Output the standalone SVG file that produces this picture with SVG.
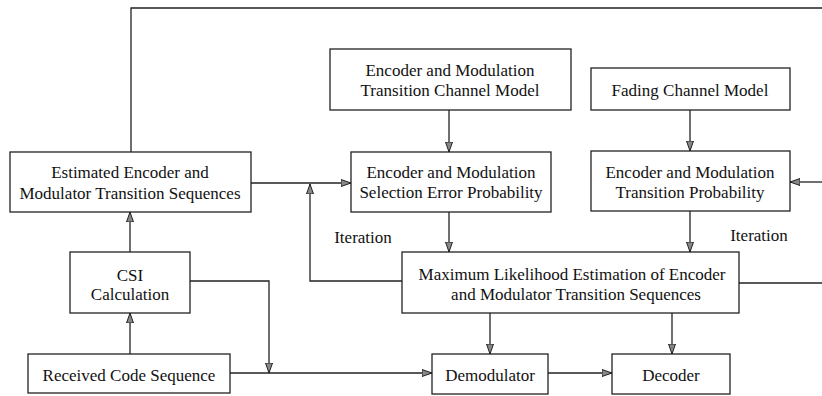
<svg xmlns="http://www.w3.org/2000/svg" width="822" height="396" viewBox="0 0 822 396">
<style>
.box{fill:#fff;stroke:#222;stroke-width:1.3}
.ln{fill:none;stroke:#222;stroke-width:1.3}
.arr{marker-end:url(#ah)}
text{font-family:"Liberation Serif","Times New Roman",serif;font-size:17px;fill:#111;text-anchor:middle;dominant-baseline:central}
</style>
<defs>
<marker id="ah" viewBox="0 0 10 8" refX="10" refY="4" markerWidth="10" markerHeight="8" markerUnits="userSpaceOnUse" orient="auto">
<path d="M0,0.5 L10,4 L0,7.5 Z" fill="#888" stroke="#222" stroke-width="1"/>
</marker>
</defs>
<rect width="822" height="396" fill="#fff"/>
<g id="connectors">
<polyline class="ln" points="131,152 131,8 822,8"/>
<line class="ln arr" x1="251" y1="183" x2="351" y2="183"/>
<polyline class="ln arr" points="402,281 310,281 310,184"/>
<line class="ln arr" x1="822" y1="182" x2="790" y2="182"/>
<line class="ln" x1="739" y1="283" x2="822" y2="283"/>
<line class="ln arr" x1="449" y1="110" x2="449" y2="152"/>
<line class="ln arr" x1="690" y1="110" x2="690" y2="151"/>
<line class="ln arr" x1="449" y1="212" x2="449" y2="252"/>
<line class="ln arr" x1="690" y1="211" x2="690" y2="252"/>
<line class="ln arr" x1="130" y1="252" x2="130" y2="212"/>
<line class="ln arr" x1="130" y1="354" x2="130" y2="313"/>
<polyline class="ln arr" points="190,281 269,281 269,373"/>
<line class="ln arr" x1="230" y1="373" x2="432" y2="373"/>
<line class="ln arr" x1="548" y1="373" x2="612" y2="373"/>
<line class="ln arr" x1="490" y1="313" x2="490" y2="354"/>
<line class="ln arr" x1="672" y1="313" x2="672" y2="354"/>
<text x="363" y="237">Iteration</text>
<text x="759" y="235">Iteration</text>
</g>
<g id="channel-model">
<rect class="box" x="330" y="49" width="241" height="61"/>
<text x="450" y="70">Encoder and Modulation</text>
<text x="450" y="90">Transition Channel Model</text>
</g>
<g id="fading-model">
<rect class="box" x="591" y="68" width="199" height="42"/>
<text x="690" y="90">Fading Channel Model</text>
</g>
<g id="estimated">
<rect class="box" x="10" y="152" width="241" height="60"/>
<text x="130" y="172">Estimated Encoder and</text>
<text x="130" y="193">Modulator Transition Sequences</text>
</g>
<g id="selection-error">
<rect class="box" x="351" y="152" width="200" height="60"/>
<text x="451" y="172">Encoder and Modulation</text>
<text x="451" y="192">Selection Error Probability</text>
</g>
<g id="transition-prob">
<rect class="box" x="591" y="151" width="199" height="60"/>
<text x="690" y="172">Encoder and Modulation</text>
<text x="690" y="192">Transition Probability</text>
</g>
<g id="csi">
<rect class="box" x="70" y="252" width="120" height="61"/>
<text x="130" y="275">CSI</text>
<text x="130" y="294">Calculation</text>
</g>
<g id="ml">
<rect class="box" x="402" y="252" width="337" height="61"/>
<text x="572" y="274">Maximum Likelihood Estimation of Encoder</text>
<text x="576" y="294">and Modulator Transition Sequences</text>
</g>
<g id="received">
<rect class="box" x="28" y="354" width="202" height="39"/>
<text x="129" y="375">Received Code Sequence</text>
</g>
<g id="demodulator">
<rect class="box" x="432" y="354" width="116" height="40"/>
<text x="490" y="375">Demodulator</text>
</g>
<g id="decoder">
<rect class="box" x="612" y="354" width="118" height="40"/>
<text x="671" y="375">Decoder</text>
</g>
</svg>
